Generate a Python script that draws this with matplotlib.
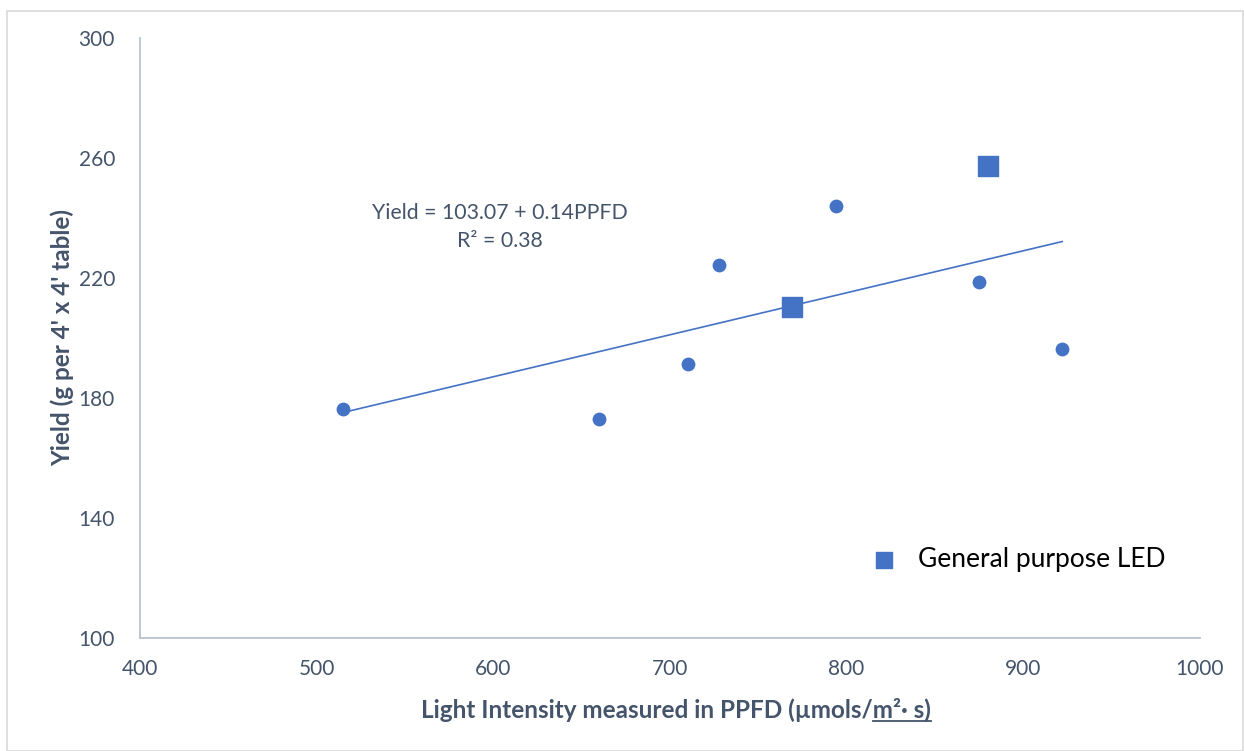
import matplotlib.pyplot as plt
from matplotlib.patches import Rectangle
from matplotlib.lines import Line2D

# data
ppfd_other = [515, 660, 710, 728, 794, 875, 922]
yield_other = [176.3, 173, 191.3, 224.3, 244, 218.7, 196.3]
ppfd_led = [769, 880]
yield_led = [210.3, 257.3]

fit_intercept = 103.07
fit_slope = 0.14
fit_range = [515, 922]

blue = '#4472C4'
text_gray = '#44546A'
axis_gray = '#B8C2D2'

plt.rcParams['font.family'] = ['Lato', 'DejaVu Sans']

fig = plt.figure(figsize=(12.44, 7.51), dpi=100)
ax = fig.add_axes([0.1125, 0.1505, 0.8521, 0.7989])

ax.scatter(ppfd_other, yield_other, s=80, color=blue, zorder=3)
ax.scatter(ppfd_led, yield_led, s=190, marker='s', color=blue, zorder=3,
           label='General purpose LED')
fx = fit_range
fy = [fit_intercept + fit_slope * v for v in fx]
ax.plot(fx, fy, color=blue, lw=1.2, zorder=2)

# trendline equation label
ax.text(604, 241.7, 'Yield = 103.07 + 0.14PPFD', ha='center', va='center',
        fontsize=15.3, color=text_gray)
ax.text(604, 232.3, 'R² = 0.38', ha='center', va='center',
        fontsize=15.3, color=text_gray)

ax.set_xlim(400, 1000)
ax.set_ylim(100, 300)
ax.set_xticks(range(400, 1001, 100))
ax.set_yticks(range(100, 301, 40))
ax.tick_params(length=0, labelsize=15, colors=text_gray)
ax.tick_params(axis='y', pad=18)
ax.tick_params(axis='x', pad=15)
for s in ['top', 'right']:
    ax.spines[s].set_visible(False)
for s in ['left', 'bottom']:
    ax.spines[s].set_color(axis_gray)
    ax.spines[s].set_linewidth(1.3)

ax.set_ylabel("Yield (g per 4' x 4' table)", fontsize=17.5, fontweight='bold',
              color=text_gray)
ax.yaxis.set_label_coords(-0.062, 0.5)

# x label with underlined tail
prefix = 'Light Intensity measured in PPFD (µmols/'
tail = 'm²· s)'
xl = fig.text(0.5435, 0.054, prefix + tail, ha='center', va='center',
              fontsize=17.5, fontweight='bold', color=text_gray)
fig.canvas.draw()
r = fig.canvas.get_renderer()
full = xl.get_window_extent(r)
tmp = fig.text(0, 0, prefix, fontsize=17.5, fontweight='bold')
pw = tmp.get_window_extent(r).width
tmp.remove()
W, H = fig.bbox.width, fig.bbox.height
x0 = (full.x0 + pw) / W
x1 = full.x1 / W
yline = (full.y0 + 1) / H
fig.add_artist(Line2D([x0, x1], [yline, yline], transform=fig.transFigure,
                      color=text_gray, lw=1.3))

leg = ax.legend(loc='lower right', bbox_to_anchor=(0.99, 0.07), frameon=False,
                fontsize=19, handletextpad=0.3, markerscale=0.85)

fig.add_artist(Rectangle((0.006, 0.0), 0.993, 0.986, transform=fig.transFigure,
                         fill=False, edgecolor='#D9D9D9', lw=1.2))

fig.savefig('out.png', dpi=100)
